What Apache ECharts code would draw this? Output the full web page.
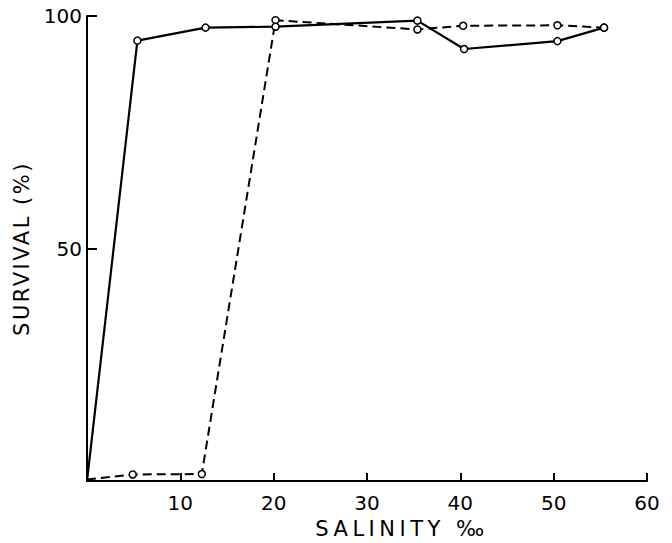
<!DOCTYPE html>
<html>
<head>
<meta charset="utf-8">
<script src="https://cdn.jsdelivr.net/npm/echarts@6/dist/echarts.min.js"></script>
<style>html,body{margin:0;padding:0;background:#fff;}#c{width:672px;height:543px;}</style>
</head>
<body>
<div id="c"></div>
<script>
// Solid line series
const solidX = [0, 5.4, 12.7, 20.2, 35.4, 40.4, 50.4, 55.4];
const solidY = [0, 94.7, 97.5, 97.7, 99.0, 92.9, 94.6, 97.5];
// Dashed line series
const dashX = [0, 4.9, 12.3, 20.2, 35.4, 40.3, 50.4, 55.4];
const dashY = [0.3, 1.4, 1.5, 99.1, 97.1, 97.9, 98.0, 97.5];
const xTicks = [10, 20, 30, 40, 50, 60];
const yTicks = [50, 100];
const xName = 'SALINITY ‰';
const yName = 'SURVIVAL (%)';

const pair = (xs, ys) => xs.map((x, i) => i === 0
  ? { value: [x, ys[i]], symbol: 'none' }
  : [x, ys[i]]);
const font = 'DejaVu Sans';
const chart = echarts.init(document.getElementById('c'), null, { renderer: 'svg' });
chart.setOption({
  animation: false,
  backgroundColor: '#fff',
  grid: { left: 87, right: 25, top: 16, bottom: 62, containLabel: false, outerBoundsMode: 'none' },
  xAxis: {
    type: 'value', min: 0, max: 60, interval: 10,
    name: xName, nameLocation: 'middle', nameGap: 37,
    nameTextStyle: { color: '#000', fontSize: 21, fontFamily: font, padding: [0, 0, 0, 70] },
    axisLine: { show: true, lineStyle: { color: '#000', width: 2 } },
    axisTick: { show: true, inside: true, length: 8, lineStyle: { color: '#000', width: 2 } },
    axisLabel: { color: '#000', fontSize: 20, fontFamily: font, margin: 12,
      formatter: v => xTicks.includes(v) ? String(v) : '' },
    splitLine: { show: false }
  },
  yAxis: {
    type: 'value', min: 0, max: 100, interval: 50,
    name: yName, nameLocation: 'middle', nameGap: 52, nameRotate: 90,
    nameTextStyle: { color: '#000', fontSize: 21, fontFamily: font },
    axisLine: { show: true, lineStyle: { color: '#000', width: 2 } },
    axisTick: { show: true, inside: true, length: 10, lineStyle: { color: '#000', width: 2 } },
    axisLabel: { color: '#000', fontSize: 20, fontFamily: font, margin: 5,
      formatter: v => yTicks.includes(v) ? String(v) : '' },
    splitLine: { show: false }
  },
  series: [
    {
      type: 'line', data: pair(dashX, dashY),
      symbol: 'circle', symbolSize: 7, showSymbol: true,
      lineStyle: { color: '#000', width: 2, type: [9, 5] },
      itemStyle: { color: '#fff', borderColor: '#000', borderWidth: 1.5 },
      z: 2
    },
    {
      type: 'line', data: pair(solidX, solidY),
      symbol: 'circle', symbolSize: 7, showSymbol: true,
      lineStyle: { color: '#000', width: 2.2 },
      itemStyle: { color: '#fff', borderColor: '#000', borderWidth: 1.5 },
      z: 3
    }
  ]
});
// widen the axis-name lettering like the original typeset figure
document.querySelectorAll('#c text').forEach(t => {
  if (t.textContent === xName) t.style.letterSpacing = '4.5px';
  if (t.textContent === yName) t.style.letterSpacing = '2.5px';
});
</script>
</body>
</html>
